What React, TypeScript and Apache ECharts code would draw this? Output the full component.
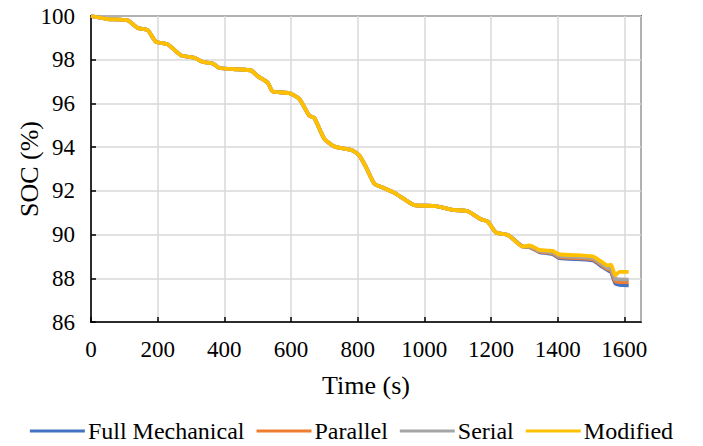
import React, { useEffect, useRef } from "react";
import * as echarts from "echarts";

// Shared portion (all strategies coincide up to ~1300 s)
const commonTime = [0, 50, 110, 140, 170, 195, 230, 270, 310, 335, 365, 385, 440, 480, 500, 530, 545, 595, 625, 655, 670, 700, 730, 785, 805, 825, 850, 875, 905, 945, 970, 1035, 1085, 1130, 1168, 1190, 1215, 1252, 1295];
const commonSOC = [100, 99.86, 99.8, 99.45, 99.35, 98.82, 98.7, 98.2, 98.09, 97.9, 97.83, 97.62, 97.56, 97.51, 97.25, 96.95, 96.55, 96.47, 96.2, 95.44, 95.33, 94.38, 94.03, 93.85, 93.62, 93.09, 92.33, 92.15, 91.95, 91.57, 91.35, 91.3, 91.13, 91.07, 90.71, 90.6, 90.1, 89.97, 89.45];

// Diverging tail
const tailTime = [1315, 1335, 1345, 1385, 1405, 1505, 1530, 1550, 1560, 1573, 1585, 1613];
const fullMechanicalTail = [89.42, 89.28, 89.2, 89.1, 88.92, 88.82, 88.57, 88.37, 88.28, 87.76, 87.7, 87.68];
const parallelTail = [89.43, 89.3, 89.22, 89.14, 88.97, 88.87, 88.62, 88.42, 88.35, 87.86, 87.83, 87.82];
const serialTail = [89.45, 89.33, 89.25, 89.18, 89.02, 88.92, 88.68, 88.48, 88.45, 87.98, 87.95, 87.94];
const modifiedTail = [89.5, 89.38, 89.3, 89.25, 89.1, 89.0, 88.77, 88.59, 88.62, 88.14, 88.29, 88.29];

const seriesNames = ["Full Mechanical", "Parallel", "Serial", "Modified"];
const seriesColors = ["#4472C4", "#ED7D31", "#A5A5A5", "#FFC000"];
const tails = [fullMechanicalTail, parallelTail, serialTail, modifiedTail];

const FONT = "Liberation Serif";

function buildData(tail: number[]): [number, number][] {
  const t = commonTime.concat(tailTime);
  const v = commonSOC.concat(tail);
  return t.map((x, i) => [x, v[i]]);
}

export default function App() {
  const ref = useRef<HTMLDivElement>(null);
  useEffect(() => {
    if (!ref.current) return;
    const chart = echarts.init(ref.current, undefined, { renderer: "svg" });
    chart.setOption({
      animation: false,
      backgroundColor: "#fff",
      textStyle: { fontFamily: FONT },
      grid: {
        left: 91,
        top: 16,
        right: 62,
        bottom: 124,
        show: true,
        borderColor: "#000",
        borderWidth: 1.5,
        containLabel: false,
        outerBoundsMode: "none",
      },
      legend: {
        bottom: -2,
        left: "center",
        itemWidth: 55,
        itemHeight: 3,
        itemGap: 12,
        icon: "rect",
        data: seriesNames,
        textStyle: { fontFamily: FONT, fontSize: 24, color: "#000", padding: [0, 0, 0, -2] },
      },
      xAxis: {
        type: "value",
        min: 0,
        max: 1650,
        interval: 200,
        name: "Time (s)",
        nameLocation: "middle",
        nameGap: 50,
        nameMoveOverlap: false,
        nameTextStyle: { fontFamily: FONT, fontSize: 26, color: "#000" },
        axisLine: { show: true, lineStyle: { color: "#000", width: 1.5 } },
        axisTick: { show: true, inside: true, length: 5, lineStyle: { color: "#000", width: 1.5 } },
        axisLabel: {
          fontFamily: FONT,
          fontSize: 23,
          color: "#000",
          margin: 16,
          showMaxLabel: false,
          formatter: (v: number) => String(v),
        },
        splitLine: { show: true, lineStyle: { color: "#d9d9d9", width: 1.5 } },
      },
      yAxis: {
        type: "value",
        min: 86,
        max: 100,
        interval: 2,
        name: "SOC (%)",
        nameLocation: "middle",
        nameGap: 49,
        nameMoveOverlap: false,
        nameTextStyle: { fontFamily: FONT, fontSize: 26, color: "#000" },
        axisLine: { show: true, lineStyle: { color: "#000", width: 1.5 } },
        axisTick: { show: true, inside: true, length: 5, lineStyle: { color: "#000", width: 1.5 } },
        axisLabel: { fontFamily: FONT, fontSize: 23, color: "#000", margin: 16, formatter: (v: number) => String(v) },
        splitLine: { show: true, lineStyle: { color: "#d9d9d9", width: 1.5 } },
      },
      series: seriesNames.map((name, i) => ({
        name,
        type: "line",
        data: buildData(tails[i]),
        showSymbol: false,
        symbol: "none",
        smooth: 0.2,
        color: seriesColors[i],
        lineStyle: { color: seriesColors[i], width: 3.8 },
      })),
    });
    return () => chart.dispose();
  }, []);
  return (
    <div
      ref={ref}
      style={{ position: "fixed", left: 0, top: 0, width: 703, height: 446, background: "#fff" }}
    />
  );
}
